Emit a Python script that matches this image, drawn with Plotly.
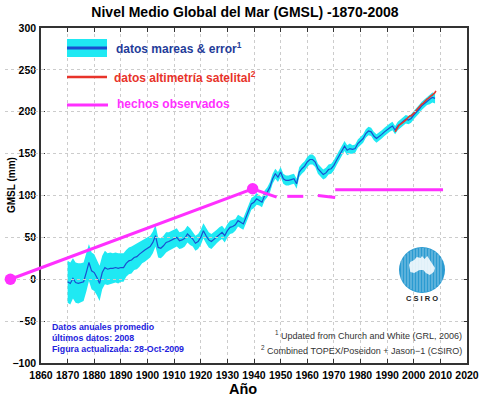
import plotly.graph_objects as go

# ---------------- data ----------------
years = list(range(1870, 2009))
gmsl = [
    -3, -5, 1, -4, -5, -4, -3, 8, 20, 10,          # 1870s
    8, 2, -5, 8, 14, 12, 13, 13, 14, 13,           # 1880s
    14, 14, 19, 22, 23, 26, 27, 30, 33, 35,        # 1890s
    37, 39, 44, 52, 38, 37, 40, 44, 45, 47,        # 1900s
    48, 50, 46, 47, 49, 54, 51, 48, 43, 45,        # 1910s
    50, 58, 52, 47, 45, 48, 51, 54, 56, 52,        # 1920s
    58, 62, 63, 65, 70, 68, 66, 74, 82, 90,        # 1930s
    92, 96, 94, 92, 100, 104, 110, 120, 126, 122,  # 1940s
    128, 120, 118, 118, 119, 120, 114, 128, 132, 135,  # 1950s
    140, 143, 143, 140, 132, 128, 125, 127, 131, 132,  # 1960s
    136, 142, 148, 154, 159, 154, 156, 155, 156, 162,  # 1970s
    165, 168, 174, 177, 176, 171, 168, 170, 173, 176,  # 1980s
    179, 181, 183, 178, 183, 186, 189, 191, 190, 192,  # 1990s
    196, 199, 203, 207, 210, 213, 215, 217, 216,       # 2000s
]
gmsl_err = [
    25, 25, 24, 24, 24, 23, 23, 23, 22, 22,
    22, 21, 21, 20, 20, 19, 19, 18, 18, 18,
    17, 17, 16, 16, 16, 15, 15, 15, 14, 14,
    14, 13, 13, 13, 12, 12, 12, 12, 11, 11,
    11, 11, 10, 10, 10, 10, 10, 9, 9, 9,
    9, 9, 9, 9, 9, 8, 8, 8, 8, 8,
    8, 8, 8, 7, 7, 7, 7, 7, 7, 7,
    7, 7, 6, 6, 6, 6, 6, 6, 6, 6,
    6, 6, 6, 6, 6, 6, 6, 6, 6, 6,
    6, 6, 6, 6, 6, 6, 6, 6, 6, 6,
    6, 6, 6, 6, 6, 6, 6, 5, 5, 5,
    5, 5, 5, 5, 5, 5, 5, 5, 5, 5,
    5, 5, 5, 5, 5, 5, 5, 5, 5, 5,
    5, 5, 5, 5, 5, 5, 6, 6, 6,
]

sat_years = [1993.0, 1993.5, 1994.0, 1994.5, 1995.0, 1995.5, 1996.0, 1996.5,
             1997.0, 1997.5, 1998.0, 1998.5, 1999.0, 1999.5, 2000.0, 2000.5,
             2001.0, 2001.5, 2002.0, 2002.5, 2003.0, 2003.5, 2004.0, 2004.5,
             2005.0, 2005.5, 2006.0, 2006.5, 2007.0, 2007.5, 2008.0, 2008.3]
sat_gmsl = [176, 179, 182, 184, 185, 186, 188, 189,
            190, 192, 194, 195, 195, 196, 198, 200,
            202, 203, 205, 207, 209, 210, 212, 213,
            215, 216, 218, 219, 220, 221, 223, 225]

# "hechos observados" segments (None = gap)
obs_x = [1848.5, 1939.5, 1948.5, None, 1952.5, 1958.5, None, 1964.0, 1970.5, None, 1970.5, 2011.0]
obs_y = [0, 108, 98, None, 99, 99, None, 100, 97.5, None, 107, 107]
obs_pts_x = [1848.5, 1939.5]
obs_pts_y = [0, 108]

x_ticks = list(range(1860, 2021, 10))
y_ticks = list(range(-100, 301, 50))

title = "Nivel Medio Global del Mar (GMSL) -1870-2008"
legend_labels = ["datos mareas & error<sup>1</sup>",
                 "datos altimetría satelital<sup>2</sup>",
                 "hechos observados"]
info_lines = ["Datos anuales promedio", "últimos datos: 2008", "Figura actualizada: 28-Oct-2009"]
notes = ["<sup>1</sup> Updated from Church and White (GRL, 2006)",
         "<sup>2</sup> Combined TOPEX/Poseidon + Jason−1 (CSIRO)"]

# ---------------- colours ----------------
CYAN = "#1fe9f3"
BLUE = "#1a4fd0"
RED = "#e8332a"
MAG = "#ff30ff"
FONT = "Liberation Sans, Arial, sans-serif"

W, H = 482, 398
ML, MR, MT, MB = 5, 15, 28, 35
PW = W - ML - MR
PH = H - MT - MB


def px(x):
    return (x - ML) / PW


def py(y):
    return (H - MB - y) / PH


x_dom0 = px(41)
xr = [1860, 2020]
scale = (PW * (1 - x_dom0)) / (xr[1] - xr[0])
x2r = [xr[0] - (PW * x_dom0) / scale, xr[1]]

lower = [v - e for v, e in zip(gmsl, gmsl_err)]
upper = [v + e for v, e in zip(gmsl, gmsl_err)]

fig = go.Figure()
fig.add_trace(go.Scatter(x=years, y=lower, mode="lines", line=dict(width=0, color=CYAN),
                         showlegend=False, hoverinfo="skip"))
fig.add_trace(go.Scatter(x=years, y=upper, mode="lines", line=dict(width=0, color=CYAN),
                         fill="tonexty", fillcolor=CYAN, showlegend=False, hoverinfo="skip"))
fig.add_trace(go.Scatter(x=years, y=gmsl, mode="lines", line=dict(width=1.2, color=BLUE),
                         showlegend=False))
fig.add_trace(go.Scatter(x=sat_years, y=sat_gmsl, mode="lines", line=dict(width=1.6, color=RED),
                         showlegend=False))
fig.add_trace(go.Scatter(x=obs_x, y=obs_y, mode="lines", line=dict(width=3, color=MAG),
                         xaxis="x2", yaxis="y", connectgaps=False, showlegend=False))
fig.add_trace(go.Scatter(x=obs_pts_x, y=obs_pts_y, mode="markers",
                         marker=dict(size=11.5, color=MAG), xaxis="x2", yaxis="y",
                         showlegend=False, cliponaxis=False))

axis_common = dict(showline=True, linecolor="#333333", linewidth=1.5, mirror="ticks",
                   ticks="inside", ticklen=4, tickcolor="#333333", tickwidth=1.2,
                   showgrid=True, gridcolor="#cccccc", griddash="dot", gridwidth=1,
                   zeroline=False, automargin=False, tickangle=0,
                   tickfont=dict(family=FONT, size=10.5, color="black", weight="bold"))

fig.update_layout(
    width=W, height=H,
    margin=dict(l=ML, r=MR, t=MT, b=MB, autoexpand=False),
    paper_bgcolor="white", plot_bgcolor="rgba(0,0,0,0)",
    showlegend=False,
    title=dict(text=title, x=245 / W, y=1 - 12 / H, xanchor="center", yanchor="middle",
               font=dict(family=FONT, size=14, color="black", weight="bold"), automargin=False),
    xaxis=dict(domain=[x_dom0, 1], range=xr, tickvals=x_ticks, ticklabelstandoff=2,
               **axis_common),
    yaxis=dict(range=[-100, 300], tickvals=y_ticks, ticklabelstandoff=1, **axis_common),
    xaxis2=dict(domain=[0, 1], range=x2r, visible=False, anchor="y", showgrid=False,
                automargin=False),
)

ann = []
ann.append(dict(text="GMSL (mm)", x=px(12), y=py(185), textangle=-90,
                font=dict(family=FONT, size=10, color="black", weight="bold")))
ann.append(dict(text="Año", x=px(243), y=py(389),
                font=dict(family=FONT, size=14.5, color="black", weight="bold")))
# legend texts
leg_cols = ["#1f3c99", RED, MAG]
leg_xy = [(114, 48), (112, 77), (115, 104)]
for lab, col, (lx, ly) in zip(legend_labels, leg_cols, leg_xy):
    ann.append(dict(text=lab, x=px(lx), y=py(ly), xanchor="left",
                    font=dict(family=FONT, size=12, color=col, weight="bold")))
for i, t in enumerate(info_lines):
    ann.append(dict(text=t, x=px(50), y=py(327 + 11 * i), xanchor="left",
                    font=dict(family=FONT, size=8.8, color="#2222dd", weight="bold")))
for i, t in enumerate(notes):
    ann.append(dict(text=t, x=px(464), y=py(335 + 15 * i), xanchor="right",
                    font=dict(family=FONT, size=9, color="#333333")))
ann.append(dict(text="C S I R O", x=px(422), y=py(298),
                font=dict(family=FONT, size=7.5, color="#222222", weight="bold")))
for a in ann:
    a.setdefault("xref", "paper")
    a.setdefault("yref", "paper")
    a.setdefault("xanchor", "center")
    a.setdefault("yanchor", "middle")
    a["showarrow"] = False
fig.update_layout(annotations=ann)

shapes = []
# legend samples
shapes.append(dict(type="rect", xref="paper", yref="paper", x0=px(67), x1=px(107), y0=py(39), y1=py(57),
                   fillcolor=CYAN, line=dict(width=0)))
shapes.append(dict(type="line", xref="paper", yref="paper", x0=px(67), x1=px(107), y0=py(48), y1=py(48),
                   line=dict(color=BLUE, width=3)))
shapes.append(dict(type="line", xref="paper", yref="paper", x0=px(67), x1=px(107), y0=py(77), y1=py(77),
                   line=dict(color=RED, width=2.5)))
shapes.append(dict(type="line", xref="paper", yref="paper", x0=px(67), x1=px(108), y0=py(105), y1=py(105),
                   line=dict(color=MAG, width=3)))
# CSIRO logo
cx, cy, r = 422, 270, 23
shapes.append(dict(type="circle", xref="paper", yref="paper", x0=px(cx - r), x1=px(cx + r),
                   y0=py(cy + r), y1=py(cy - r), fillcolor="#2b9bd1", line=dict(width=0)))
for dx in range(-20, 21, 3):
    h = (r * r - dx * dx) ** 0.5 - 1
    shapes.append(dict(type="line", xref="paper", yref="paper", x0=px(cx + dx), x1=px(cx + dx),
                       y0=py(cy + h), y1=py(cy - h), line=dict(color="rgba(255,255,255,0.45)", width=1)))
aus = [(0.0, 0.45), (0.05, 0.3), (0.2, 0.2), (0.3, 0.05), (0.45, 0.1), (0.5, 0.0), (0.6, 0.15),
       (0.7, 0.0), (0.8, 0.2), (0.9, 0.4), (1.0, 0.6), (0.95, 0.8), (0.8, 0.95), (0.65, 0.85),
       (0.55, 0.7), (0.4, 0.7), (0.2, 0.85), (0.05, 0.8)]
path = "M " + " L ".join(f"{px(409 + 26 * a):.4f},{py(256 + 20 * b):.4f}" for a, b in aus) + " Z"
shapes.append(dict(type="path", xref="paper", yref="paper", path=path, fillcolor="rgba(255,255,255,0.85)",
                   line=dict(width=0)))
fig.update_layout(shapes=shapes)

fig.write_html("out.html", config={"displayModeBar": False},
               post_script="document.body.style.margin='0px';")
